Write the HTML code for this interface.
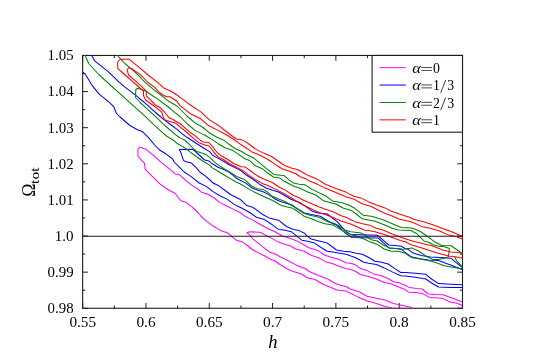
<!DOCTYPE html>
<html><head><meta charset="utf-8"><title>Omega_tot vs h</title>
<style>
html,body{margin:0;padding:0;background:#fff;}
body{width:545px;height:364px;position:relative;overflow:hidden;font-family:"Liberation Serif",serif;}
.s{font-family:"Liberation Serif",serif;fill:#000;}
svg{will-change:transform;}
.tx{opacity:0.999;}
</style></head><body>
<svg width="545" height="364" viewBox="0 0 545 364" style="position:absolute;left:0;top:0">
<rect x="0" y="0" width="545" height="364" fill="#ffffff"/>
<clipPath id="c"><rect x="82.11" y="54.910000000000004" width="380.94000000000005" height="253.89999999999998"/></clipPath>
<path d="M82.66,308.26v-5.3M82.66,55.46v5.3M114.31,308.26v-2.7M114.31,55.46v2.7M145.97,308.26v-5.3M145.97,55.46v5.3M177.62,308.26v-2.7M177.62,55.46v2.7M209.27,308.26v-5.3M209.27,55.46v5.3M240.93,308.26v-2.7M240.93,55.46v2.7M272.58,308.26v-5.3M272.58,55.46v5.3M304.23,308.26v-2.7M304.23,55.46v2.7M335.89,308.26v-5.3M335.89,55.46v5.3M367.54,308.26v-2.7M367.54,55.46v2.7M399.19,308.26v-5.3M399.19,55.46v5.3M430.85,308.26v-2.7M430.85,55.46v2.7M462.50,308.26v-5.3M462.50,55.46v5.3M82.66,308.26h5.3M462.5,308.26h-5.3M82.66,290.20h2.7M462.5,290.20h-2.7M82.66,272.15h5.3M462.5,272.15h-5.3M82.66,254.09h2.7M462.5,254.09h-2.7M82.66,236.03h5.3M462.5,236.03h-5.3M82.66,217.97h2.7M462.5,217.97h-2.7M82.66,199.92h5.3M462.5,199.92h-5.3M82.66,181.86h2.7M462.5,181.86h-2.7M82.66,163.80h5.3M462.5,163.80h-5.3M82.66,145.75h2.7M462.5,145.75h-2.7M82.66,127.69h5.3M462.5,127.69h-5.3M82.66,109.63h2.7M462.5,109.63h-2.7M82.66,91.57h5.3M462.5,91.57h-5.3M82.66,73.52h2.7M462.5,73.52h-2.7M82.66,55.46h5.3M462.5,55.46h-5.3" stroke="#1c1c1c" stroke-width="1" fill="none"/><rect x="82.66" y="55.46" width="379.84000000000003" height="252.79999999999998" fill="none" stroke="#1c1c1c" stroke-width="1.1"/>
<g clip-path="url(#c)">
<polyline points="139.5,147.1 146.4,149.6 153.0,154.8 161.2,162.3 169.5,168.9 175.0,173.7 179.6,174.9 186.5,181.2 193.5,186.4 196.9,188.2 201.5,192.2 208.5,194.5 214.2,198.0 220.0,202.6 226.9,206.0 235.0,210.1 240.0,212.5 245.0,216.2 251.9,219.6 260.0,224.2 268.1,228.8 275.0,231.7 281.9,235.8 288.8,238.1 295.8,240.4 301.9,243.7 308.8,247.7 318.1,250.6 325.0,255.2 331.9,257.5 338.8,259.2 345.8,262.7 350.0,263.3 355.3,264.6 360.5,268.6 367.1,270.6 373.7,273.9 381.6,275.8 388.2,278.5 393.5,281.8 400.1,283.1 405.0,285.3 409.6,287.6 416.5,288.5 422.3,289.0 428.1,294.0 435.0,294.5 443.1,294.8 451.2,297.8 458.1,300.3 462.5,302.0" fill="none" stroke="#ff00ff" stroke-width="1.04" stroke-linejoin="round"/>
<polyline points="139.5,147.1 137.8,149.9 138.1,156.5 144.4,163.1 145.2,169.4 153.0,177.1 159.6,183.7 167.8,189.5 175.0,193.3 180.8,200.8 186.5,202.6 192.3,207.2 198.4,213.0 200.8,216.0 206.5,221.2 213.5,226.3 220.4,230.4 228.5,233.3 231.9,236.7 236.5,240.2 242.3,241.9 248.1,246.0 250.8,248.5 256.5,251.9 262.3,254.8 265.8,256.5 269.2,258.7 275.0,261.0 279.6,264.2 289.2,270.0 295.0,271.9 300.8,273.7 305.4,276.5 306.9,277.8 315.0,279.5 323.1,284.2 331.2,287.6 336.9,289.9 346.2,291.1 350.0,293.0 357.9,296.9 367.1,300.9 376.4,303.5 384.3,306.2 390.9,307.8 392.5,308.3 394.8,307.9" fill="none" stroke="#ff00ff" stroke-width="1.04" stroke-linejoin="round"/>
<polyline points="246.7,232.9 249.6,231.7 260.0,232.3 265.8,235.2 271.5,238.1 278.5,242.1 285.4,244.4 291.2,246.2 295.0,248.8 304.2,251.2 311.2,255.2 319.2,258.1 326.2,262.1 333.1,263.8 338.8,266.2 345.8,268.5 350.0,269.3 355.3,271.2 360.5,274.5 368.5,276.5 376.4,279.1 384.3,282.4 390.9,283.8 397.5,286.4 405.0,289.6 408.5,292.2 415.4,292.5 422.3,293.4 429.2,297.4 436.2,297.8 443.1,298.6 450.0,302.0 456.9,303.2 462.5,305.5" fill="none" stroke="#ff00ff" stroke-width="1.04" stroke-linejoin="round"/>
<polyline points="246.7,232.9 249.6,234.6 253.1,239.2 257.7,242.7 263.5,247.3 269.2,251.9 275.0,253.7 279.6,256.5 289.2,261.3 295.0,264.4 303.1,267.9 304.6,268.0 309.2,271.5 318.5,275.5 327.7,279.0 334.6,283.0 340.4,285.3 346.2,286.5 350.0,289.0 359.2,291.7 367.1,296.3 376.4,298.3 385.6,300.2 393.5,303.5 402.7,305.5 405.0,306.1 410.8,307.2 413.1,308.4" fill="none" stroke="#ff00ff" stroke-width="1.04" stroke-linejoin="round"/>
<polyline points="91.5,55.0 94.4,60.6 108.8,72.1 118.5,81.7 125.0,87.1 131.9,92.3 137.7,96.9 140.0,99.0 145.8,103.7 151.5,108.8 157.3,114.0 164.2,119.8 171.2,125.0 178.1,130.2 180.0,132.1 186.9,137.3 191.2,140.0 196.9,143.8 203.1,147.7 210.0,151.9 212.3,155.2 218.1,158.1 223.8,161.5 229.6,165.0 235.4,167.9 241.2,170.8 246.3,175.0 252.7,179.0 259.6,184.2 266.5,188.3 273.5,190.6 279.2,192.3 285.0,195.8 290.8,199.2 295.4,201.0 300.8,203.1 306.5,207.1 312.3,211.2 318.1,212.9 327.3,214.0 331.9,217.5 337.7,222.1 345.0,230.6 350.8,234.6 361.2,234.8 377.3,235.2 381.9,239.2 388.8,245.0 394.6,245.6 401.5,246.2 405.0,248.5 408.5,249.6 413.1,253.1 421.2,255.4 430.4,257.1 440.8,257.5 451.2,258.3 455.8,262.3 462.5,267.5" fill="none" stroke="#0000ff" stroke-width="1.04" stroke-linejoin="round"/>
<polyline points="83.0,72.1 85.8,75.0 91.5,84.6 99.2,94.2 108.8,101.9 113.7,106.7 116.5,113.5 120.0,117.0 130.0,125.5 136.9,129.5 142.7,131.8 148.5,137.6 154.2,144.5 160.0,150.3 165.8,153.8 172.7,159.0 173.8,161.5 179.6,167.3 184.2,172.0 191.2,176.6 199.2,183.0 206.2,186.4 213.1,191.6 220.0,195.7 226.9,199.1 235.0,204.9 240.0,207.3 245.8,210.2 251.5,213.7 253.1,215.0 256.5,217.3 264.6,219.6 271.5,224.2 278.5,229.4 284.2,230.0 291.2,231.7 297.3,236.7 301.9,240.2 307.7,241.3 314.6,243.1 321.5,247.7 327.3,251.2 334.2,252.3 341.2,253.5 346.9,254.6 351.5,256.3 355.0,257.5 357.7,258.8 363.2,262.0 368.5,263.3 376.4,264.6 384.3,267.9 392.2,271.9 400.8,275.8 405.0,276.1 415.4,277.2 425.8,279.0 431.5,283.0 438.5,287.0 451.2,287.4 462.5,287.6" fill="none" stroke="#0000ff" stroke-width="1.04" stroke-linejoin="round"/>
<polyline points="179.2,149.6 192.3,149.2 195.4,151.5 200.8,156.5 204.6,160.0 207.7,160.4 210.0,161.9 212.3,163.8 218.1,167.3 223.8,169.6 228.5,171.9 233.1,175.4 235.6,177.6 240.0,180.2 245.8,183.1 251.5,187.7 257.3,190.0 263.1,191.7 268.8,194.6 274.6,198.7 280.4,201.5 286.2,203.3 291.9,205.0 296.5,208.5 300.0,210.2 304.2,212.9 311.2,214.6 320.4,216.3 325.0,219.2 330.8,222.7 336.5,225.0 341.2,229.0 345.0,232.9 351.9,237.5 361.2,237.8 378.5,238.1 383.1,242.7 388.8,247.9 395.8,248.5 401.5,249.0 405.0,252.5 411.9,257.1 420.0,258.8 428.1,260.0 438.5,260.6 443.1,262.3 451.2,265.2 462.5,269.8" fill="none" stroke="#0000ff" stroke-width="1.04" stroke-linejoin="round"/>
<polyline points="179.2,149.6 180.4,151.5 183.5,160.4 185.4,161.5 191.5,163.1 194.6,166.2 196.2,167.7 199.8,172.0 206.2,176.6 213.1,183.0 218.8,185.8 225.8,191.0 230.4,194.5 235.0,196.8 240.0,199.2 243.5,202.7 246.9,205.6 252.7,207.3 258.5,211.3 263.5,215.0 269.2,217.9 278.5,220.2 286.5,226.5 293.5,229.4 299.2,230.6 305.0,233.5 306.5,235.6 311.2,239.0 318.1,240.8 327.3,243.1 331.9,246.5 336.5,250.0 343.5,251.2 350.4,251.7 355.0,252.9 362.3,254.2 369.2,257.7 375.0,261.2 380.3,262.0 388.2,264.0 394.8,268.6 400.8,272.5 405.0,272.6 415.4,273.2 425.8,274.3 431.5,279.0 438.5,283.6 451.2,284.2 462.5,284.7" fill="none" stroke="#0000ff" stroke-width="1.04" stroke-linejoin="round"/>
<polyline points="116.9,55.0 121.3,59.6 125.0,63.5 130.8,68.7 136.5,73.3 142.3,79.6 148.1,84.8 155.0,90.6 160.8,95.0 168.8,101.3 176.9,106.0 180.0,109.0 186.9,116.0 195.0,122.9 203.1,127.5 210.0,133.3 213.5,135.3 216.9,137.3 223.8,140.2 229.6,144.8 235.4,148.8 241.2,151.2 245.0,153.7 254.2,158.3 262.3,165.2 268.1,169.8 273.8,174.4 278.5,175.0 284.2,175.6 288.8,179.6 293.5,183.1 299.2,184.2 305.0,184.8 312.5,189.6 323.8,195.0 325.0,195.4 333.1,201.3 341.2,202.5 348.1,204.8 353.8,207.7 363.1,215.2 371.2,216.3 375.0,217.3 384.2,220.2 392.3,223.7 401.5,227.5 411.9,228.0 420.0,231.2 425.8,235.2 432.7,240.4 435.0,242.0 441.9,245.5 451.2,245.8 455.8,249.0 462.5,253.7" fill="none" stroke="#008000" stroke-width="1.04" stroke-linejoin="round"/>
<polyline points="85.0,55.0 88.7,63.5 99.2,75.0 118.5,92.3 137.7,109.6 140.0,111.7 145.8,116.9 151.5,122.7 157.3,127.9 163.1,133.1 167.1,136.5 173.1,140.0 177.7,143.8 185.4,148.1 190.0,151.9 196.2,156.5 202.3,160.8 210.0,165.4 212.3,167.9 218.1,171.3 223.8,174.8 226.7,176.5 228.7,177.6 235.6,181.8 240.0,183.7 245.8,187.1 251.5,190.6 257.3,193.5 263.1,196.3 268.8,198.7 274.6,201.5 280.4,205.0 286.2,206.7 291.9,207.9 296.5,210.8 300.0,213.1 304.2,216.3 311.2,218.7 318.1,221.5 325.0,223.8 333.1,225.0 337.7,227.9 345.0,232.3 349.6,234.0 356.5,236.3 363.5,238.7 370.4,242.1 377.3,244.4 384.2,249.0 391.2,251.3 398.1,251.3 402.7,252.5 405.0,253.1 411.9,257.7 418.8,258.8 428.1,260.6 435.0,262.3 444.2,265.8 451.2,266.9 462.5,268.7" fill="none" stroke="#008000" stroke-width="1.04" stroke-linejoin="round"/>
<polyline points="135.4,97.5 135.9,89.6 136.8,88.5 140.0,88.8 145.8,91.2 151.5,95.0 158.5,99.6 167.7,106.5 174.6,112.3 180.0,116.5 186.9,123.5 195.0,130.4 203.1,134.4 205.4,135.5 212.3,139.6 218.1,143.7 225.0,147.7 233.1,150.6 238.8,154.6 245.0,158.8 249.6,160.6 255.4,165.8 262.3,168.7 268.1,173.3 273.8,177.3 279.6,177.9 284.2,181.3 290.0,184.2 294.6,186.5 300.0,188.2 307.7,192.0 315.8,195.0 322.7,200.2 325.0,201.3 336.5,204.2 343.5,208.3 351.5,210.6 356.2,214.0 361.9,218.7 371.2,220.4 375.0,221.3 384.2,224.8 392.3,228.3 398.1,230.1 410.8,230.5 416.5,233.5 421.2,238.1 424.6,241.5 428.1,242.0 433.8,244.9 439.6,246.6 443.1,246.2 449.4,248.5 448.3,257.1" fill="none" stroke="#008000" stroke-width="1.04" stroke-linejoin="round"/>
<polyline points="135.4,97.5 138.8,101.0 140.0,102.5 145.8,107.7 151.5,112.9 157.3,118.1 163.1,123.8 168.8,129.0 175.8,134.8 178.1,136.5 180.0,137.9 184.6,140.0 189.2,144.2 193.1,148.5 196.2,151.2 200.8,152.7 205.4,154.2 210.0,157.7 214.6,162.1 219.2,165.6 223.8,168.5 229.6,171.9 234.2,174.8 236.5,176.5 240.0,177.8 244.6,179.6 251.5,186.0 257.3,188.8 263.1,189.4 267.7,192.3 272.3,196.3 279.2,199.2 285.0,201.5 290.8,205.0 296.5,207.9 300.0,210.8 304.2,213.5 310.0,215.2 318.1,216.9 323.8,219.8 328.5,222.1 334.2,223.3 338.8,225.6 345.0,230.0 350.8,231.7 361.2,232.9 365.8,235.8 371.5,239.8 377.3,241.0 383.1,245.0 390.0,247.9 395.8,248.5 401.5,249.6 405.0,249.0 411.9,247.9 418.8,251.3 425.8,256.0 432.7,259.4 438.5,259.4 444.2,258.3 448.3,257.1" fill="none" stroke="#008000" stroke-width="1.04" stroke-linejoin="round"/>
<polyline points="454.6,257.1 456.9,261.2 462.5,266.9" fill="none" stroke="#008000" stroke-width="1.04" stroke-linejoin="round"/>
<polyline points="120.4,59.2 129.4,59.3 140.0,68.1 148.1,75.0 158.5,83.1 164.2,88.3 171.2,91.2 174.6,93.5 178.1,95.8 186.2,101.9 190.4,105.0 200.8,111.9 208.8,119.4 218.1,125.2 226.2,131.5 230.8,135.0 236.5,139.0 241.2,139.6 245.8,141.9 250.2,145.0 256.5,149.6 263.5,153.1 271.5,156.5 278.5,161.2 284.2,165.2 291.2,168.1 298.1,169.8 305.0,173.8 308.5,175.6 318.0,179.6 325.0,184.0 336.5,188.7 345.8,192.1 353.8,196.2 360.8,197.9 368.8,201.9 375.8,204.8 385.0,207.9 391.5,211.2 400.8,214.6 410.0,217.5 414.2,219.5 423.5,221.8 432.7,224.7 441.9,228.2 451.2,231.6 458.1,234.5 462.5,236.8" fill="none" stroke="#ff0000" stroke-width="1.04" stroke-linejoin="round"/>
<polyline points="120.4,59.2 117.6,62.0 117.8,68.7 121.3,71.5 125.0,75.0 131.9,80.8 137.7,86.0 143.5,91.2 143.5,95.8 145.8,100.2 151.5,104.2 157.3,108.3 161.9,112.3 163.1,116.9 164.8,119.8 170.0,121.5 175.8,123.3 180.0,126.9 185.8,131.5 191.5,136.7 195.0,139.6 199.6,143.1 204.2,144.8 208.8,146.0 212.3,150.0 215.8,154.6 218.1,156.9 223.8,159.8 229.6,163.8 235.4,166.7 241.2,169.6 245.0,172.1 249.2,175.3 255.0,179.4 263.1,183.7 268.8,186.0 275.8,189.4 282.7,192.9 288.5,196.3 294.2,199.8 300.8,203.7 306.5,206.5 313.5,210.0 320.4,212.9 327.3,215.2 334.2,218.1 341.2,221.0 348.1,223.3 350.0,223.7 358.1,227.3 365.0,230.2 368.1,230.4 375.0,231.7 384.2,234.6 392.3,237.5 400.4,240.4 403.8,241.5 405.0,241.5 408.2,243.2 411.9,245.0 423.5,248.5 437.3,253.1 448.8,256.0 456.9,257.1 462.5,258.3" fill="none" stroke="#ff0000" stroke-width="1.04" stroke-linejoin="round"/>
<polyline points="128.5,67.5 131.9,68.7 140.0,74.4 148.1,82.5 155.0,87.7 158.5,91.7 163.1,95.0 166.5,96.7 170.0,96.7 176.9,101.3 180.0,105.6 190.4,113.7 196.2,116.5 200.8,118.8 208.8,125.8 218.1,130.4 226.7,135.0 233.1,139.0 238.8,143.1 245.0,147.3 251.9,151.9 258.8,154.8 265.8,158.3 271.5,161.7 277.3,165.8 281.9,168.7 288.8,171.0 295.8,173.8 300.4,176.7 305.0,178.5 308.5,180.4 318.0,184.6 325.0,188.1 336.5,192.7 345.8,196.7 355.0,199.6 361.9,203.7 371.2,206.5 378.1,210.0 385.0,213.5 390.4,215.2 399.6,219.2 410.0,221.5 414.2,223.0 421.2,226.4 430.4,228.2 439.6,231.0 448.8,235.1 456.9,236.8 462.5,239.1" fill="none" stroke="#ff0000" stroke-width="1.04" stroke-linejoin="round"/>
<polyline points="128.5,67.5 127.3,70.4 128.5,75.0 136.5,81.9 142.3,87.1 146.3,91.2 146.3,95.8 151.5,100.8 155.0,104.8 160.2,107.7 164.8,112.3 168.8,117.5 173.5,119.8 178.1,122.7 180.0,123.5 185.8,128.7 191.5,133.3 195.0,135.6 199.6,139.6 203.1,141.9 208.8,142.5 213.5,147.7 216.9,152.3 220.4,155.2 227.3,159.2 234.2,163.8 241.2,166.7 245.0,166.9 250.8,171.0 257.3,175.8 263.1,178.8 272.3,182.5 278.1,186.5 286.2,190.6 293.1,195.2 300.0,198.1 301.9,199.6 310.0,203.1 318.1,206.5 326.2,209.4 334.2,212.3 341.2,215.8 348.1,218.1 350.0,219.2 355.8,222.1 362.7,223.8 370.8,225.6 375.0,227.7 384.2,230.6 392.3,234.0 401.5,237.5 408.5,239.8 414.2,241.5 418.8,242.6 428.1,244.9 430.4,245.0 443.1,250.2 451.2,251.9 462.5,253.1" fill="none" stroke="#ff0000" stroke-width="1.04" stroke-linejoin="round"/>
<line x1="82.66" y1="236.18" x2="462.5" y2="236.18" stroke="#1a1a1a" stroke-width="1.1"/>
</g>
<g class="tx">
<rect x="372.1" y="55.46" width="90.39999999999998" height="76.73999999999998" fill="#fff" stroke="#1c1c1c" stroke-width="1.1"/>
<line x1="379.6" y1="67.66" x2="405.8" y2="67.66" stroke="#ff00ff" stroke-width="1"/>
<text x="412.2" y="72.81" font-size="15.2" font-style="italic" class="s" textLength="8.6" lengthAdjust="spacingAndGlyphs">α</text>
<path d="M421.3,67.56h10.8M421.3,70.46h10.8" stroke="#111" stroke-width="0.75" fill="none"/>
<text x="433.1" y="72.81" font-size="13.8" class="s">0</text>
<line x1="379.6" y1="85.06" x2="405.8" y2="85.06" stroke="#0000ff" stroke-width="1"/>
<text x="412.2" y="90.21" font-size="15.2" font-style="italic" class="s" textLength="8.6" lengthAdjust="spacingAndGlyphs">α</text>
<path d="M421.3,84.96h10.8M421.3,87.86h10.8" stroke="#111" stroke-width="0.75" fill="none"/>
<text x="433.1" y="90.21" font-size="13.8" class="s">1</text>
<text x="447.3" y="90.21" font-size="13.8" class="s">3</text>
<path d="M440.7,92.81L445.7,80.01" stroke="#111" stroke-width="0.8" fill="none"/>
<line x1="379.6" y1="102.46" x2="405.8" y2="102.46" stroke="#008000" stroke-width="1"/>
<text x="412.2" y="107.61" font-size="15.2" font-style="italic" class="s" textLength="8.6" lengthAdjust="spacingAndGlyphs">α</text>
<path d="M421.3,102.36h10.8M421.3,105.26h10.8" stroke="#111" stroke-width="0.75" fill="none"/>
<text x="433.1" y="107.61" font-size="13.8" class="s">2</text>
<text x="447.3" y="107.61" font-size="13.8" class="s">3</text>
<path d="M440.7,110.21L445.7,97.41" stroke="#111" stroke-width="0.8" fill="none"/>
<line x1="379.6" y1="119.86" x2="405.8" y2="119.86" stroke="#ff0000" stroke-width="1"/>
<text x="412.2" y="125.01" font-size="15.2" font-style="italic" class="s" textLength="8.6" lengthAdjust="spacingAndGlyphs">α</text>
<path d="M421.3,119.76h10.8M421.3,122.66h10.8" stroke="#111" stroke-width="0.75" fill="none"/>
<text x="433.1" y="125.01" font-size="13.8" class="s">1</text>
<text x="69.4" y="326.8" font-size="13.8" class="s" textLength="26.6" lengthAdjust="spacingAndGlyphs">0.55</text>
<text x="136.4" y="326.8" font-size="13.8" class="s" textLength="19.2" lengthAdjust="spacingAndGlyphs">0.6</text>
<text x="196.0" y="326.8" font-size="13.8" class="s" textLength="26.6" lengthAdjust="spacingAndGlyphs">0.65</text>
<text x="263.0" y="326.8" font-size="13.8" class="s" textLength="19.2" lengthAdjust="spacingAndGlyphs">0.7</text>
<text x="322.6" y="326.8" font-size="13.8" class="s" textLength="26.6" lengthAdjust="spacingAndGlyphs">0.75</text>
<text x="389.6" y="326.8" font-size="13.8" class="s" textLength="19.2" lengthAdjust="spacingAndGlyphs">0.8</text>
<text x="449.2" y="326.8" font-size="13.8" class="s" textLength="26.6" lengthAdjust="spacingAndGlyphs">0.85</text>
<text x="47.6" y="313.1" font-size="13.8" class="s" textLength="26.0" lengthAdjust="spacingAndGlyphs">0.98</text>
<text x="47.6" y="276.9" font-size="13.8" class="s" textLength="26.0" lengthAdjust="spacingAndGlyphs">0.99</text>
<text x="54.8" y="240.8" font-size="13.8" class="s" textLength="18.8" lengthAdjust="spacingAndGlyphs">1.0</text>
<text x="47.6" y="204.7" font-size="13.8" class="s" textLength="26.0" lengthAdjust="spacingAndGlyphs">1.01</text>
<text x="47.6" y="168.6" font-size="13.8" class="s" textLength="26.0" lengthAdjust="spacingAndGlyphs">1.02</text>
<text x="47.6" y="132.5" font-size="13.8" class="s" textLength="26.0" lengthAdjust="spacingAndGlyphs">1.03</text>
<text x="47.6" y="96.4" font-size="13.8" class="s" textLength="26.0" lengthAdjust="spacingAndGlyphs">1.04</text>
<text x="47.6" y="60.3" font-size="13.8" class="s" textLength="26.0" lengthAdjust="spacingAndGlyphs">1.05</text>
<text x="272.8" y="348.4" font-size="18.5" font-style="italic" text-anchor="middle" class="s">h</text>
<g transform="translate(35,196.7) rotate(-90)"><text x="0" y="0" font-size="19.5" class="s" textLength="13.3" lengthAdjust="spacingAndGlyphs">Ω</text><text x="12.8" y="3.7" font-size="13.5" class="s" textLength="16.4" lengthAdjust="spacingAndGlyphs">tot</text></g>
</g>
</svg>
</body></html>
